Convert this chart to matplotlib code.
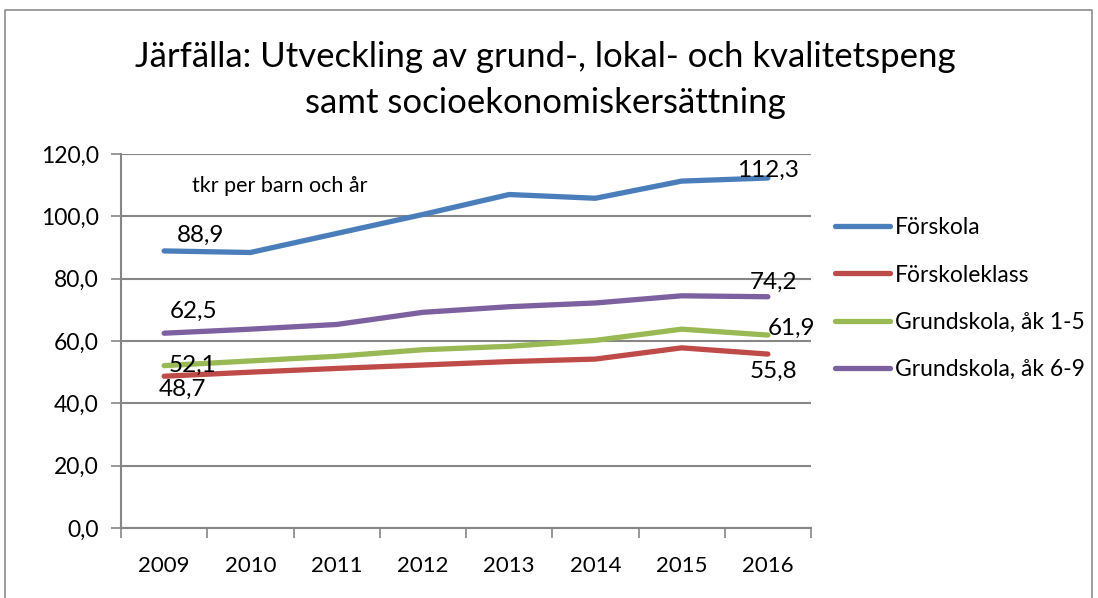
import numpy as np
import matplotlib.pyplot as plt
from matplotlib.lines import Line2D

years = ['2009', '2010', '2011', '2012', '2013', '2014', '2015', '2016']
forskola = [88.9, 88.4, 94.5, 100.6, 107.0, 105.8, 111.3, 112.3]
forskoleklass = [48.7, 50.0, 51.2, 52.3, 53.4, 54.2, 57.8, 55.8]
grund_1_5 = [52.1, 53.6, 55.1, 57.2, 58.3, 60.2, 63.8, 61.9]
grund_6_9 = [62.5, 63.8, 65.3, 69.2, 71.0, 72.2, 74.5, 74.2]

names = ['Förskola', 'Förskoleklass', 'Grundskola, åk 1-5', 'Grundskola, åk 6-9']
colors = ['#4A7EBB', '#BE4B48', '#98B954', '#7D60A0']

plt.rcParams['font.family'] = ['Lato', 'DejaVu Sans']
grid_c = '#868686'

fig = plt.figure(figsize=(10.98, 5.98), dpi=100)
ax = fig.add_axes([121 / 1098, 1 - 528 / 598, 690 / 1098, 374 / 598])

x = np.arange(len(years))
series = [forskola, forskoleklass, grund_1_5, grund_6_9]
for vals, name, c in zip(series, names, colors):
    ax.plot(x, vals, color=c, lw=3.8, solid_capstyle='round', label=name, zorder=3)

ax.set_xlim(-0.5, len(years) - 0.5)
ax.set_ylim(0, 120)
ax.set_yticks(np.arange(0, 121, 20))
ax.set_yticklabels([f'{v:.1f}'.replace('.', ',') for v in np.arange(0, 121, 20)], fontsize=16.5)
ax.yaxis.grid(True, color=grid_c, lw=1.5)
ax.set_axisbelow(True)

ax.set_xticks(np.arange(-0.5, len(years), 1))
ax.set_xticklabels([])
ax.set_xticks(x, minor=True)
ax.set_xticklabels(years, minor=True, fontsize=16)
ax.tick_params(axis='x', which='major', length=7, color=grid_c, width=1.2)
ax.tick_params(axis='x', which='minor', length=0, pad=20)
ax.tick_params(axis='y', length=7, color=grid_c, width=1.2, pad=9)

for s in ['top', 'right']:
    ax.spines[s].set_visible(False)
for s in ['left', 'bottom']:
    ax.spines[s].set_color(grid_c)
    ax.spines[s].set_linewidth(1.5)

def fmt(v):
    return f'{v:.1f}'.replace('.', ',')

lab = dict(fontsize=17.5, zorder=4)
ax.annotate(fmt(forskola[0]), (0, forskola[0]), xytext=(9, 4), textcoords='offset points', ha='left', va='bottom', **lab)
ax.annotate(fmt(forskola[-1]), (7, forskola[-1]), xytext=(0, -2), textcoords='offset points', ha='center', va='bottom', **lab)
ax.annotate(fmt(grund_6_9[0]), (0, grund_6_9[0]), xytext=(4, 8), textcoords='offset points', ha='left', va='bottom', **lab)
ax.annotate(fmt(grund_6_9[-1]), (7, grund_6_9[-1]), xytext=(4, 3), textcoords='offset points', ha='center', va='bottom', **lab)
ax.annotate(fmt(grund_1_5[0]), (0, grund_1_5[0]), xytext=(3, 0), textcoords='offset points', ha='left', va='center', **lab)
ax.annotate(fmt(grund_1_5[-1]), (7, grund_1_5[-1]), xytext=(0, 5), textcoords='offset points', ha='left', va='center', **lab)
ax.annotate(fmt(forskoleklass[0]), (0, forskoleklass[0]), xytext=(-4, -2), textcoords='offset points', ha='left', va='top', **lab)
ax.annotate(fmt(forskoleklass[-1]), (7, forskoleklass[-1]), xytext=(4, -5), textcoords='offset points', ha='center', va='top', **lab)

ax.text(0.103, 0.94, 'tkr per barn och år', transform=ax.transAxes, fontsize=15.5, va='top', ha='left')

fig.text(545 / 1098, 1 - 80 / 598, 'Järfälla: Utveckling av grund-, lokal- och kvalitetspeng\nsamt socioekonomiskersättning',
         ha='center', va='center', fontsize=25, linespacing=1.55)

handles = [Line2D([0], [0], color=c, lw=3.8, solid_capstyle='round') for c in colors]
fig.legend(handles, names, loc='upper left', bbox_to_anchor=(826 / 1098, 1 - 208 / 598), frameon=False,
           fontsize=16.5, handlelength=2.4, handletextpad=0.2, labelspacing=1.15, borderaxespad=0)

fig.add_artist(Line2D([5 / 1098, 5 / 1098, 1092 / 1098, 1092 / 1098], [0, 1 - 10 / 598, 1 - 10 / 598, 0],
                      transform=fig.transFigure, color='#8c8c8c', lw=1.2))

fig.savefig('out.png', dpi=100)
